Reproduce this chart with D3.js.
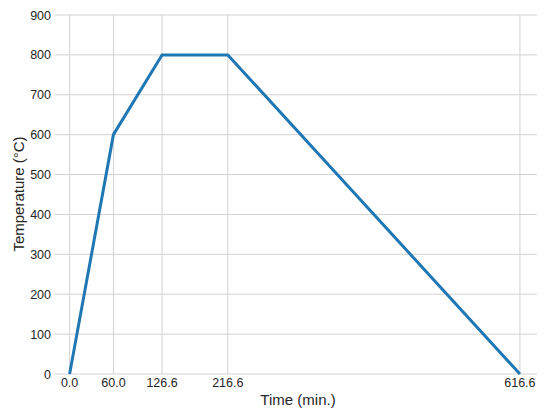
<!DOCTYPE html>
<html>
<head>
  <meta charset="utf-8">
  <script src="https://d3js.org/d3.v7.min.js"></script>
  <style>
    body { margin: 0; background: #fff; }
    text { font-family: "Liberation Sans", Arial, sans-serif; fill: #262626; }
  </style>
</head>
<body>
  <svg width="550" height="416"></svg>
  <script>
    // perfil de temperatura
    const time = [0, 60, 126.6, 216.6, 616.6];
    const temperature = [0, 600, 800, 800, 0];
    const xTicks = [0, 60, 126.6, 216.6, 616.6];
    const yTicks = [0, 100, 200, 300, 400, 500, 600, 700, 800, 900];

    const svg = d3.select("svg");
    const mLeft = 55, mRight = 537, mTop = 15, mBottom = 374;

    const x = d3.scaleLinear().domain([-20, 640]).range([mLeft, mRight]);
    const y = d3.scaleLinear().domain([0, 900]).range([mBottom, mTop]);

    // grid
    svg.append("g").selectAll("line")
      .data(yTicks).enter().append("line")
      .attr("x1", mLeft).attr("x2", mRight)
      .attr("y1", d => y(d)).attr("y2", d => y(d))
      .attr("stroke", "#d2d2d2").attr("stroke-width", 1);

    svg.append("g").selectAll("line")
      .data(xTicks).enter().append("line")
      .attr("x1", d => x(d)).attr("x2", d => x(d))
      .attr("y1", mTop).attr("y2", mBottom)
      .attr("stroke", "#d2d2d2").attr("stroke-width", 1);

    // axes labels
    svg.append("g").selectAll("text")
      .data(yTicks).enter().append("text")
      .attr("x", mLeft - 4).attr("y", d => y(d) + 4.5)
      .attr("text-anchor", "end")
      .style("font-size", "12.5px")
      .text(d => d);

    svg.append("g").selectAll("text")
      .data(xTicks).enter().append("text")
      .attr("x", d => x(d)).attr("y", 387)
      .attr("text-anchor", "middle")
      .style("font-size", "12.5px")
      .text(d => d.toFixed(1));

    svg.append("text")
      .attr("x", 298).attr("y", 405)
      .attr("text-anchor", "middle")
      .style("font-size", "15px")
      .text("Time (min.)");

    svg.append("text")
      .attr("transform", "translate(24,194) rotate(-90)")
      .attr("text-anchor", "middle")
      .style("font-size", "15px")
      .text("Temperature (°C)");

    // linea
    const line = d3.line()
      .x((d, i) => x(time[i]))
      .y(d => y(d));

    svg.append("path")
      .datum(temperature)
      .attr("fill", "none")
      .attr("stroke", "#1f77b4")
      .attr("stroke-width", 3)
      .attr("d", line);
  </script>
</body>
</html>
